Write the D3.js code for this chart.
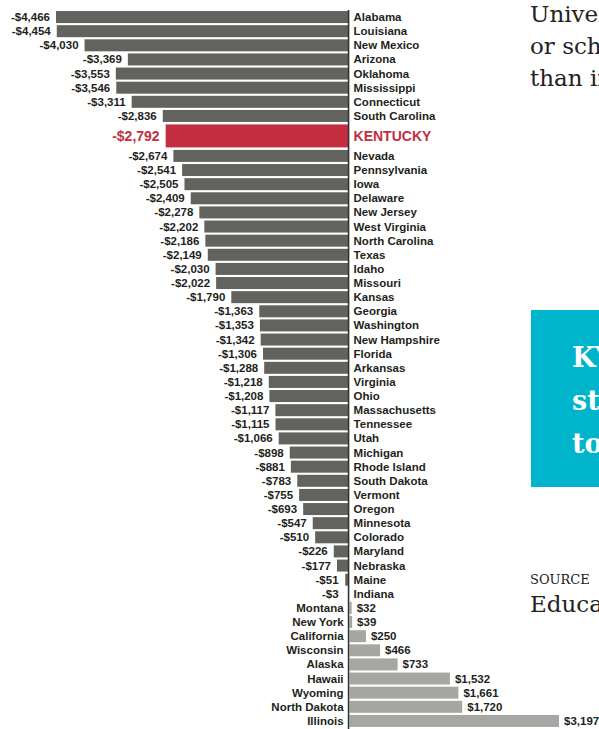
<!DOCTYPE html>
<html>
<head>
<meta charset="utf-8">
<script src="https://cdn.jsdelivr.net/npm/d3@7"></script>
<style>
  body { margin: 0; background: #fff; }
  svg { display: block; }
  .lbl { font-family: 'Liberation Sans', Arial, sans-serif; font-weight: bold; font-size: 11.5px; fill: #231f20; }
  .hl { font-size: 14px; fill: #c32f40; }
  .serif { font-family: 'DejaVu Serif', Georgia, serif; fill: #222; }
</style>
</head>
<body>
<div id="vis"></div>
<script>
'use strict';

var states = ['Alabama', 'Louisiana', 'New Mexico', 'Arizona', 'Oklahoma', 'Mississippi',
    'Connecticut', 'South Carolina', 'KENTUCKY', 'Nevada', 'Pennsylvania', 'Iowa', 'Delaware',
    'New Jersey', 'West Virginia', 'North Carolina', 'Texas', 'Idaho', 'Missouri', 'Kansas',
    'Georgia', 'Washington', 'New Hampshire', 'Florida', 'Arkansas', 'Virginia', 'Ohio',
    'Massachusetts', 'Tennessee', 'Utah', 'Michigan', 'Rhode Island', 'South Dakota', 'Vermont',
    'Oregon', 'Minnesota', 'Colorado', 'Maryland', 'Nebraska', 'Maine', 'Indiana', 'Montana',
    'New York', 'California', 'Wisconsin', 'Alaska', 'Hawaii', 'Wyoming', 'North Dakota', 'Illinois'];

var values = [-4466, -4454, -4030, -3369, -3553, -3546, -3311, -2836, -2792, -2674, -2541,
    -2505, -2409, -2278, -2202, -2186, -2149, -2030, -2022, -1790, -1363, -1353, -1342, -1306,
    -1288, -1218, -1208, -1117, -1115, -1066, -898, -881, -783, -755, -693, -547, -510, -226,
    -177, -51, -3, 32, 39, 250, 466, 733, 1532, 1661, 1720, 3197];

var highlight = 'KENTUCKY';

// right-hand column text (runs off the page edge, as in the print layout)
var introLines = ['University', 'or schools', 'than in'];
var boxLines = ['KY', 'st', 'to'];
var sourceLines = ['SOURCE', 'Education'];

var width = 599, height = 729;

var svg = d3.select('#vis')
    .append('svg')
    .attr('width', width)
    .attr('height', height);

var rows = states.map(function (s, i) {
    return { name: s, value: values[i], hl: s === highlight };
});

// the highlighted row takes more room than the others
var unit = 0;
rows.forEach(function (d) {
    d.size = d.hl ? 1.83 : 1;
    d.start = unit;
    unit += d.size;
});

var y = d3.scaleLinear().domain([0, unit]).range([10, 728]);
var x = d3.scaleLinear().domain([d3.min(values), d3.max(values)]).range([56, 558]);
var x0 = x(0);

function fmt(v) {
    return (v < 0 ? '-$' : '$') + d3.format(',')(Math.abs(v));
}

var rowG = svg.append('g').selectAll('g')
    .data(rows)
    .enter().append('g')
    .attr('transform', function (d) {
        return 'translate(0,' + y(d.start + d.size / 2) + ')';
    });

rowG.append('rect')
    .attr('x', function (d) { return d.value < 0 ? x(d.value) : x0 + 1; })
    .attr('width', function (d) { return Math.abs(x(d.value) - x0); })
    .attr('y', function (d) { return d.hl ? -11.5 : -6; })
    .attr('height', function (d) { return d.hl ? 23 : 12; })
    .attr('fill', function (d) {
        if (d.hl) { return '#c32f40'; }
        return d.value < 0 ? '#62635e' : '#a6a7a3';
    });

// value labels
rowG.append('text')
    .attr('class', function (d) { return d.hl ? 'lbl hl' : 'lbl'; })
    .attr('x', function (d) {
        return d.value < 0 ? Math.min(x(d.value), x0 - 4) - 6 : x(d.value) + 6;
    })
    .attr('y', function (d) { return d.hl ? 5 : 4; })
    .attr('text-anchor', function (d) { return d.value < 0 ? 'end' : 'start'; })
    .text(function (d) { return fmt(d.value); });

// state names
rowG.append('text')
    .attr('class', function (d) { return d.hl ? 'lbl hl' : 'lbl'; })
    .attr('x', function (d) { return d.value < 0 ? x0 + 5 : x0 - 5; })
    .attr('y', function (d) { return d.hl ? 5 : 4; })
    .attr('text-anchor', function (d) { return d.value < 0 ? 'start' : 'end'; })
    .text(function (d) { return d.name; });

// zero line
svg.append('line')
    .attr('x1', x0).attr('x2', x0)
    .attr('y1', y(0)).attr('y2', height)
    .attr('stroke', '#333')
    .attr('stroke-width', 1.6);

// intro text
svg.append('g').selectAll('text')
    .data(introLines)
    .enter().append('text')
    .attr('class', 'serif')
    .attr('x', 530)
    .attr('y', function (d, i) { return 22 + i * 32; })
    .attr('font-size', 23)
    .text(function (d) { return d; });

// teal quote box
svg.append('rect')
    .attr('x', 531).attr('y', 310)
    .attr('width', width - 531).attr('height', 177)
    .attr('fill', '#00b4cc');

svg.append('g').selectAll('text')
    .data(boxLines)
    .enter().append('text')
    .attr('x', 572)
    .attr('y', function (d, i) { return 367 + i * 43; })
    .attr('font-family', "'DejaVu Serif', Georgia, serif")
    .attr('font-weight', 'bold')
    .attr('font-size', 27)
    .attr('fill', '#fff')
    .text(function (d) { return d; });

// source
svg.append('text')
    .attr('class', 'serif')
    .attr('x', 530).attr('y', 584)
    .attr('font-size', 13)
    .text(sourceLines[0]);
svg.append('text')
    .attr('class', 'serif')
    .attr('x', 530).attr('y', 612)
    .attr('font-size', 23)
    .text(sourceLines[1]);
</script>
</body>
</html>
